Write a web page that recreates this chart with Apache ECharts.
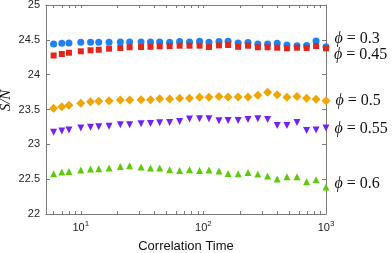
<!DOCTYPE html>
<html>
<head>
<meta charset="utf-8">
<script src="https://cdn.jsdelivr.net/npm/echarts@6/dist/echarts.min.js"></script>
<style>
html,body{margin:0;padding:0;background:#fff;}
#main{width:392px;height:253px;}
</style>
</head>
<body>
<div id="main"></div>
<script>
// correlation times (x, log axis)
var times = [6, 7, 8, 10, 12, 14, 17, 21, 25, 31, 37, 44, 53, 64, 77, 93, 111, 134, 159, 192, 231, 278, 334, 400, 480, 580, 695, 830, 1000];
var phiNames = ['0.3', '0.45', '0.5', '0.55', '0.6'];
var sn03 = [24.44, 24.45, 24.455, 24.465, 24.465, 24.465, 24.465, 24.47, 24.47, 24.47, 24.47, 24.47, 24.465, 24.475,
  24.47, 24.48, 24.465, 24.475, 24.48, 24.455, 24.46, 24.44, 24.44, 24.45, 24.425, 24.415, 24.42, 24.485, 24.40];
var sn045 = [24.275, 24.297, 24.315, 24.335, 24.35, 24.358, 24.373, 24.383, 24.393, 24.397, 24.40, 24.407, 24.41, 24.416,
  24.416, 24.416, 24.397, 24.42, 24.426, 24.40, 24.416, 24.393, 24.393, 24.387, 24.378, 24.387, 24.383, 24.41, 24.378];
var sn05 = [23.517, 23.54, 23.56, 23.589, 23.612, 23.618, 23.626, 23.636, 23.636, 23.641, 23.641, 23.655, 23.651, 23.661,
  23.661, 23.676, 23.676, 23.685, 23.68, 23.68, 23.68, 23.704, 23.747, 23.713, 23.676, 23.685, 23.661, 23.646, 23.626];
var sn055 = [23.175, 23.19, 23.205, 23.233, 23.247, 23.251, 23.261, 23.28, 23.28, 23.294, 23.299, 23.309, 23.313, 23.327,
  23.362, 23.366, 23.366, 23.337, 23.341, 23.341, 23.356, 23.366, 23.356, 23.27, 23.27, 23.313, 23.198, 23.204, 23.233];
var sn06 = [22.578, 22.602, 22.611, 22.631, 22.645, 22.649, 22.659, 22.682, 22.692, 22.674, 22.659, 22.659, 22.635, 22.625,
  22.635, 22.625, 22.631, 22.616, 22.582, 22.578, 22.596, 22.573, 22.545, 22.502, 22.535, 22.535, 22.463, 22.492, 22.387];
var minorTicks = [6, 7, 8, 9, 10, 20, 30, 40, 50, 60, 70, 80, 90, 100, 200, 300, 400, 500, 600, 700, 800, 900, 1000];
var yTicks = [22, 22.5, 23, 23.5, 24, 24.5, 25];

var chart = echarts.init(document.getElementById('main'));

function pairs(ys) {
  return ys.map(function (v, i) { return [times[i], v]; });
}

var axisGray = '#7a7a7a';
var supRich = {
  base: { fontFamily: 'Liberation Sans', fontSize: 11, color: '#222' },
  sup: { fontFamily: 'Liberation Sans', fontSize: 8, color: '#222', verticalAlign: 'bottom', padding: [0, 0, 7, 0] }
};

function mk(name, data, symbol, color, size, rotate, labelOffset) {
  var pts = pairs(data);
  var last = pts.length - 1;
  return {
    name: name,
    type: 'scatter',
    symbol: symbol,
    symbolSize: size,
    symbolRotate: rotate,
    itemStyle: { color: color, opacity: 1 },
    data: pts.map(function (p, i) {
      if (i !== last) return p;
      return {
        value: p,
        label: {
          show: true,
          position: 'right',
          distance: 5,
          offset: [0, labelOffset],
          formatter: '{i|\u03d5} = ' + name,
          fontFamily: 'Liberation Serif',
          fontSize: 16,
          color: '#111',
          rich: { i: { fontFamily: 'Liberation Serif', fontStyle: 'italic', fontSize: 16, color: '#111' } }
        }
      };
    })
  };
}

var option = {
  animation: false,
  grid: { left: 46, right: 66, top: 5, bottom: 39, outerBoundsMode: 'none', containLabel: false },
  xAxis: [{
    type: 'log',
    min: 5.2,
    max: 1000,
    name: 'Correlation Time',
    nameLocation: 'middle',
    nameGap: 26,
    nameMoveOverlap: false,
    nameTextStyle: { fontFamily: 'Liberation Sans', fontSize: 13, color: '#111' },
    axisLine: { lineStyle: { color: axisGray } },
    axisTick: { inside: true, length: 3, customValues: minorTicks, lineStyle: { color: axisGray } },
    axisLabel: {
      customValues: [10, 100, 1000],
      margin: 6,
      formatter: function (v) {
        var e = Math.round(Math.log10(v));
        if (Math.abs(Math.pow(10, e) - v) > 1e-6) return '';
        return '{base|10}{sup|' + e + '}';
      },
      rich: supRich
    },
    splitLine: { show: false }
  }, {
    type: 'log',
    position: 'top',
    min: 5.2,
    max: 1000,
    axisLine: { lineStyle: { color: axisGray } },
    axisTick: { inside: true, length: 3, customValues: minorTicks, lineStyle: { color: axisGray } },
    axisLabel: { show: false },
    splitLine: { show: false }
  }],
  yAxis: [{
    type: 'value',
    min: 22,
    max: 25,
    interval: 0.5,
    name: 'S/N',
    nameLocation: 'middle',
    nameGap: 32,
    nameMoveOverlap: false,
    nameTextStyle: { fontFamily: 'Liberation Serif', fontStyle: 'italic', fontSize: 15, color: '#111', padding: [0, 0, 0, 18] },
    axisLine: { show: true, lineStyle: { color: axisGray } },
    axisTick: { show: true, inside: true, length: 4, lineStyle: { color: axisGray } },
    axisLabel: {
      fontFamily: 'Liberation Sans', fontSize: 11, color: '#222', margin: 6,
      formatter: function (v) { return yTicks.indexOf(v) >= 0 ? String(v) : ''; }
    },
    splitLine: { show: false }
  }, {
    type: 'value',
    position: 'right',
    min: 22,
    max: 25,
    interval: 0.5,
    axisLine: { show: true, lineStyle: { color: axisGray } },
    axisTick: { show: true, inside: true, length: 4, lineStyle: { color: axisGray } },
    axisLabel: { show: false },
    splitLine: { show: false }
  }],
  series: [
    mk(phiNames[0], sn03, 'circle', '#1f80f0', 7, 0, -8),
    mk(phiNames[1], sn045, 'rect', '#e2261a', 6, 0, 6),
    mk(phiNames[2], sn05, 'diamond', '#f0a500', 9, 0, 0),
    mk(phiNames[3], sn055, 'triangle', '#7421f2', 7, 180, 1),
    mk(phiNames[4], sn06, 'triangle', '#5ecb0a', 7, 0, -3)
  ]
};

chart.setOption(option);
</script>
</body>
</html>
